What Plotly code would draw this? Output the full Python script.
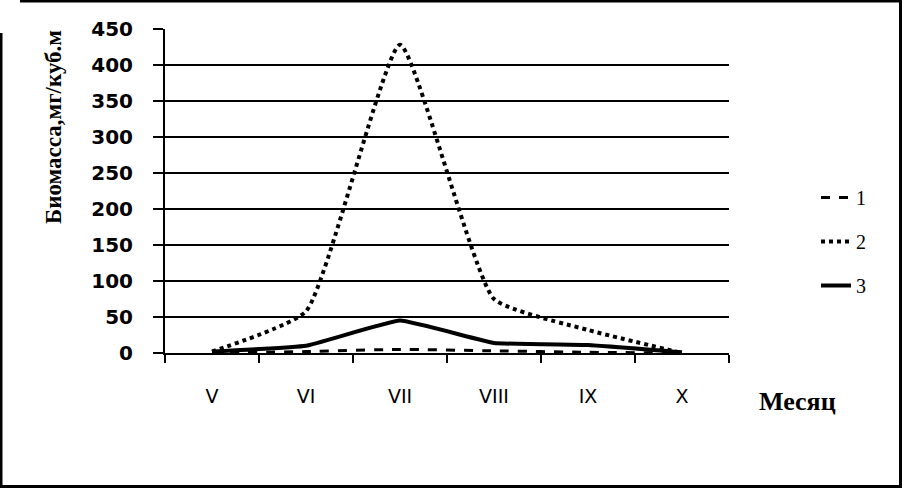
import plotly.graph_objects as go

months = ["V", "VI", "VII", "VIII", "IX", "X"]
series_names = ["1", "2", "3"]
s1 = [0, 2, 5, 3, 1, 0]
s2 = [2, 58, 428, 75, 32, 0]
s3 = [2, 10, 45, 14, 11, 1]

W, H = 902, 488
L, R, T, B = 165, 173, 29, 135
pw, ph = W - L - R, H - T - B


def px(x):
    return (x - L) / pw


def py(y):
    return (H - B - y) / ph


styles = [
    dict(dash="dash", width=3, smooth=0.5),
    dict(dash="dot", width=4, smooth=0.45),
    dict(dash="solid", width=4, smooth=0.3),
]

fig = go.Figure()
for name, vals, st in zip(series_names, [s1, s2, s3], styles):
    fig.add_trace(go.Scatter(
        x=months, y=vals, name=name, mode="lines",
        line=dict(color="black", width=st["width"], dash=st["dash"],
                  shape="spline", smoothing=st["smooth"]),
        legendgroup=name,
    ))

fig.update_layout(
    width=W, height=H,
    margin=dict(l=L, r=R, t=T, b=B),
    paper_bgcolor="white", plot_bgcolor="white",
    showlegend=True,
    legend=dict(x=px(816), y=py(178), xanchor="left", yanchor="top",
                font=dict(family="Liberation Serif", size=20, color="black"),
                tracegroupgap=15, bgcolor="rgba(0,0,0,0)"),
)
fig.update_xaxes(
    type="category", range=[-0.5, 5.5],
    showline=True, linecolor="black", linewidth=2,
    ticks="outside", tickson="boundaries", ticklen=8, tickwidth=2,
    tickcolor="black", showgrid=False, ticklabelstandoff=25,
    tickfont=dict(family="DejaVu Sans", size=19, color="black"),
)
fig.update_yaxes(
    range=[0, 450], dtick=50, tick0=0,
    showline=True, linecolor="black", linewidth=2,
    ticks="outside", ticklen=10, tickwidth=2, tickcolor="black",
    showgrid=True, gridcolor="black", gridwidth=2, zeroline=False,
    ticklabelstandoff=16,
    tickfont=dict(family="DejaVu Sans", size=20, color="black", weight="bold"),
)

fig.add_annotation(
    text="Биомасса,мг/куб.м", textangle=-90,
    xref="paper", yref="paper", x=px(53), y=py(127),
    xanchor="center", yanchor="middle", showarrow=False,
    font=dict(family="Liberation Serif", size=23, color="black", weight="bold"),
)
fig.add_annotation(
    text="Месяц",
    xref="paper", yref="paper", x=px(797), y=py(401),
    xanchor="center", yanchor="middle", showarrow=False,
    font=dict(family="Liberation Serif", size=26, color="black", weight="bold"),
)

# outer frame
for x0, y0, x1, y1 in [(20, 1, 902, 1), (1, 33, 1, 488),
                       (900.5, 0, 900.5, 488), (0, 486.5, 902, 486.5)]:
    fig.add_shape(type="line", xref="paper", yref="paper",
                  x0=px(x0), y0=py(y0), x1=px(x1), y1=py(y1),
                  line=dict(color="black", width=3))

fig.write_html("out.html", config={"displayModeBar": False},
               post_script="document.body.style.margin='0';")
